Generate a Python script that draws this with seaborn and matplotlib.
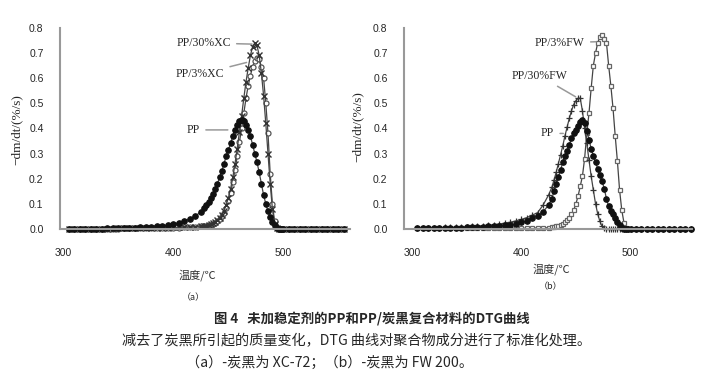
import seaborn as sns
import numpy as np
from matplotlib import pyplot as plt

# temperature grid (deg C), shared by all curves
temp = [305, 310, 315, 320, 325, 330, 335, 340, 345, 350, 355, 360, 365, 370, 375,
        380, 385, 390, 395, 400, 405, 410, 415, 420, 425,
        428, 430, 432, 434, 436, 438, 440, 442, 444, 446, 448, 450, 452, 454, 456,
        458, 460, 462, 464, 466, 468, 470, 472, 474, 476, 478, 480, 482, 484, 486,
        488, 490, 492, 494, 496, 498, 500,
        505, 510, 515, 520, 525, 530, 535, 540, 545, 550, 555]
tail = [0] * 11

# (a) carbon black XC-72
pp_a = [0, 0, 0, 0, 0, 0.001, 0.001, 0.002, 0.002, 0.003, 0.003, 0.004, 0.005, 0.006, 0.007,
        0.009, 0.011, 0.013, 0.016, 0.02, 0.025, 0.031, 0.04, 0.052, 0.068,
        0.083, 0.094, 0.107, 0.122, 0.14, 0.16, 0.18, 0.205, 0.23, 0.26, 0.29, 0.315, 0.34, 0.37, 0.395,
        0.415, 0.43, 0.435, 0.43, 0.415, 0.395, 0.37, 0.335, 0.3, 0.265, 0.225, 0.18, 0.135, 0.1, 0.07,
        0.048, 0.028, 0.014, 0.005, 0.001, 0, 0] + tail
pp3xc = [0, 0, 0, 0, 0, 0, 0.001, 0.001, 0.001, 0.001, 0.002, 0.002, 0.002, 0.002, 0.003,
         0.003, 0.003, 0.004, 0.004, 0.004, 0.005, 0.006, 0.007, 0.008, 0.01,
         0.011, 0.012, 0.014, 0.017, 0.02, 0.025, 0.031, 0.04, 0.05, 0.065, 0.085, 0.11, 0.145, 0.185, 0.235,
         0.29, 0.345, 0.4, 0.46, 0.52, 0.57, 0.61, 0.645, 0.67, 0.68, 0.675, 0.645, 0.6, 0.5, 0.38,
         0.22, 0.1, 0.03, 0.005, 0, 0, 0] + tail
pp30xc = [0, 0, 0, 0, 0, 0.001, 0.001, 0.001, 0.001, 0.002, 0.002, 0.002, 0.003, 0.003, 0.003,
          0.004, 0.004, 0.005, 0.005, 0.006, 0.006, 0.007, 0.008, 0.009, 0.011,
          0.012, 0.013, 0.016, 0.019, 0.023, 0.028, 0.035, 0.045, 0.057, 0.073, 0.095, 0.125, 0.16, 0.205, 0.26,
          0.32, 0.385, 0.45, 0.52, 0.585, 0.64, 0.69, 0.725, 0.74, 0.73, 0.69, 0.62, 0.53, 0.42, 0.3,
          0.18, 0.08, 0.02, 0.003, 0, 0, 0] + tail

# (b) carbon black FW 200
pp_b = [0.002, 0.002, 0.003, 0.003, 0.003, 0.004, 0.004, 0.005, 0.005, 0.006, 0.007, 0.008, 0.009, 0.01, 0.011,
        0.012, 0.014, 0.016, 0.02, 0.026, 0.033, 0.042, 0.053, 0.068, 0.095,
        0.12, 0.15, 0.18, 0.205, 0.235, 0.265, 0.29, 0.31, 0.335, 0.36, 0.38, 0.395, 0.41, 0.425, 0.435,
        0.42, 0.39, 0.355, 0.32, 0.29, 0.265, 0.24, 0.215, 0.19, 0.16, 0.12, 0.09, 0.072, 0.058, 0.043,
        0.028, 0.015, 0.004, 0.001, 0, 0, 0] + tail
pp30fw = [0.003, 0.004, 0.004, 0.005, 0.005, 0.006, 0.006, 0.007, 0.008, 0.009, 0.01, 0.012, 0.013, 0.015, 0.017,
          0.02, 0.023, 0.027, 0.032, 0.038, 0.045, 0.055, 0.065, 0.095, 0.135,
          0.165, 0.195, 0.225, 0.26, 0.295, 0.33, 0.37, 0.405, 0.44, 0.47, 0.495, 0.51, 0.52, 0.52, 0.47,
          0.4, 0.34, 0.275, 0.21, 0.155, 0.1, 0.06, 0.03, 0.01, 0.002, 0, 0, 0, 0, 0,
          0, 0, 0, 0, 0, 0, 0] + tail
pp3fw = [0.002, 0.002, 0.002, 0.002, 0.002, 0.002, 0.002, 0.002, 0.002, 0.002, 0.002, 0.002, 0.002, 0.002, 0.003,
         0.003, 0.003, 0.003, 0.003, 0.003, 0.003, 0.004, 0.004, 0.004, 0.005,
         0.006, 0.008, 0.01, 0.012, 0.015, 0.02, 0.027, 0.035, 0.045, 0.058, 0.075, 0.1, 0.13, 0.17, 0.21,
         0.28, 0.38, 0.46, 0.56, 0.65, 0.7, 0.74, 0.765, 0.77, 0.755, 0.74, 0.65, 0.57, 0.48, 0.37,
         0.27, 0.155, 0.075, 0.025, 0.005, 0, 0] + tail

yticks = [0.0, 0.1, 0.2, 0.3, 0.4, 0.5, 0.6, 0.7, 0.8]
xticks = [300, 400, 500]

sns.set_style("white")
plt.rcParams['font.family'] = ['Liberation Sans', 'Noto Sans CJK SC', 'DejaVu Sans']

fig = plt.figure(figsize=(7.08, 3.76), dpi=100)
ax1 = fig.add_axes([0.085, 0.391, 0.41, 0.535])
ax2 = fig.add_axes([0.571, 0.391, 0.406, 0.535])

line_c = '#444444'
styles = {
    'pp': dict(marker='o', markersize=4.0, markerfacecolor='#111111', markeredgecolor='#111111'),
    'open_o': dict(marker='o', markersize=3.6, markerfacecolor='white', markeredgecolor='#555555', markeredgewidth=0.9),
    'x': dict(marker='x', markersize=4, markeredgecolor='#333333', markeredgewidth=1.0),
    'plus': dict(marker='+', markersize=4.5, markeredgecolor='#333333', markeredgewidth=0.9),
    'sq': dict(marker='s', markersize=3.4, markerfacecolor='white', markeredgecolor='#666666', markeredgewidth=0.9),
}

for ax, series in [(ax1, [(pp3xc, 'open_o'), (pp30xc, 'x'), (pp_a, 'pp')]),
                   (ax2, [(pp3fw, 'sq'), (pp30fw, 'plus'), (pp_b, 'pp')])]:
    for vals, st in series:
        sns.lineplot(x=temp, y=vals, ax=ax, color=line_c, linewidth=0.9, clip_on=False, **styles[st])

for ax, xl in [(ax1, (297, 561)), (ax2, (293, 556))]:
    ax.set_xlim(*xl)
    ax.set_ylim(0, 0.8)
    ax.set_xticks(xticks)
    ax.set_yticks(yticks)
    ax.set_yticklabels([f'{v:.1f}' for v in yticks])
    ax.tick_params(axis='both', labelsize=7.5, length=2, width=0.8, color='#999999', pad=10)
    ax.tick_params(axis='x', pad=12)
    for s in ['top', 'right']:
        ax.spines[s].set_visible(False)
    for s in ['left', 'bottom']:
        ax.spines[s].set_color('#999999')
        ax.spines[s].set_linewidth(1.5)
    ax.set_xlabel('')
    ax.set_ylabel('')

ann = dict(fontsize=8.5, family='Liberation Serif', ha='right', va='center',
           arrowprops=dict(arrowstyle='-', color='#999999', lw=1.1))
ax1.annotate('PP/30%XC', xy=(474, 0.735), xytext=(452, 0.74), **ann)
ax1.annotate('PP/3%XC', xy=(469, 0.665), xytext=(446, 0.615), **ann)
ax1.annotate('PP', xy=(452, 0.394), xytext=(424, 0.394), **ann)
ax2.annotate('PP/3%FW', xy=(471, 0.745), xytext=(458, 0.74), **ann)
ax2.annotate('PP/30%FW', xy=(452, 0.52), xytext=(442, 0.61), **ann)
ax2.annotate('PP', xy=(441, 0.38), xytext=(430, 0.38), **ann)

# axis titles and captions
ylab = '\u2212dm/dt/(%/s)'
fig.text(17 / 708, 1 - 130 / 376, ylab, rotation=90, ha='center', va='center',
         fontsize=9.5, family='Liberation Serif')
fig.text(358 / 708, 1 - 127 / 376, ylab, rotation=90, ha='center', va='center',
         fontsize=9.5, family='Liberation Serif')
cjk = ['Noto Sans CJK SC', 'DejaVu Sans']
fig.text(197 / 708, 1 - 275 / 376, '温度/℃', ha='center', va='center', fontsize=8,
         family=cjk, color='#333333')
fig.text(551 / 708, 1 - 269 / 376, '温度/℃', ha='center', va='center', fontsize=8,
         family=cjk, color='#333333')
fig.text(193 / 708, 1 - 298 / 376, '（a）', ha='center', va='center', fontsize=6.5, family=cjk)
fig.text(551 / 708, 1 - 287 / 376, '（b）', ha='center', va='center', fontsize=6.5, family=cjk)

fig.text(372 / 708, 1 - 319 / 376, '图 4   未加稳定剂的PP和PP/炭黑复合材料的DTG曲线',
         ha='center', va='center', fontsize=9.6, fontweight='bold', family=cjk)
fig.text(356 / 708, 1 - 341 / 376, '减去了炭黑所引起的质量变化，DTG 曲线对聚合物成分进行了标准化处理。',
         ha='center', va='center', fontsize=10.2, family=cjk)
fig.text(330 / 708, 1 - 363 / 376, '（a）-炭黑为 XC-72；（b）-炭黑为 FW 200。',
         ha='center', va='center', fontsize=10.2, family=cjk)

plt.savefig('out.png', dpi=100)
